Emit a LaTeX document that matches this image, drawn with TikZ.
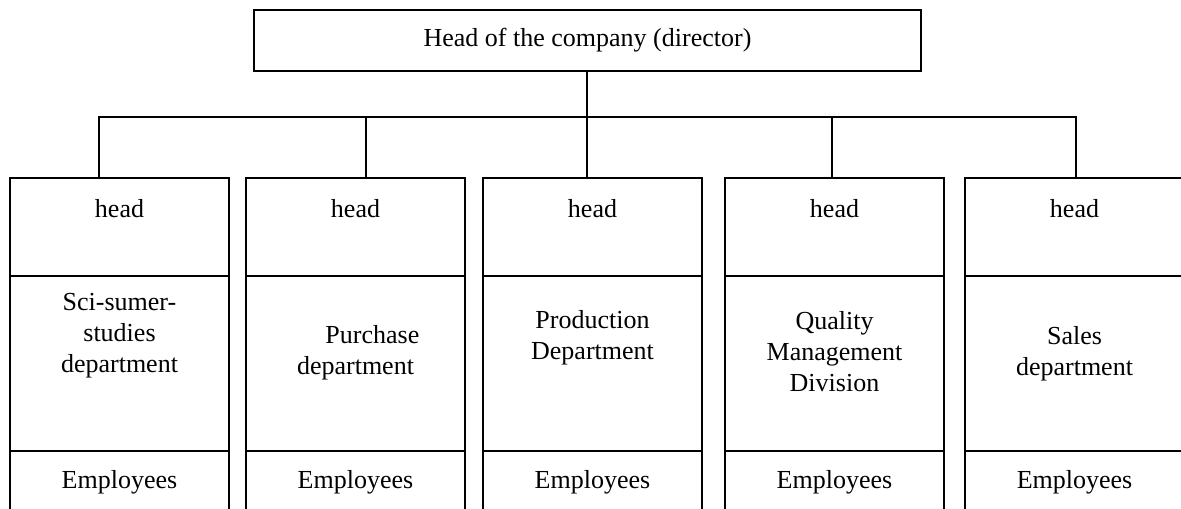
\documentclass[tikz,border=0pt]{standalone}
\usepackage{fontspec}
\setmainfont{Liberation Serif}
\usetikzlibrary{calc}
\tikzset{
	chart/.style={line width=1.4pt},
	txt/.style={font=\fontsize{19.5}{23.25}\selectfont, align=center, inner sep=0pt},
	topbox/.style={draw, chart, minimum width=500.25pt, minimum height=45.75pt, anchor=north west, inner sep=0pt, outer sep=0pt},
	headbox/.style={draw, chart, minimum width=164.25pt, minimum height=73.5pt, anchor=north west, outer sep=0pt},
	deptbox/.style={draw, chart, minimum width=164.25pt, minimum height=131.25pt, anchor=north west, outer sep=0pt},
	empbox/.style={draw, chart, minimum width=164.25pt, minimum height=60pt, anchor=north west, outer sep=0pt}
}

\begin{document}
\begin{tikzpicture}[x=0.75pt, y=-0.75pt]
			%%%%% START %%%%%
			\useasboundingbox (0, 0) rectangle (1181, 508);
			
			\node[topbox, txt, font=\fontsize{19.5}{23.25}\selectfont] (boss) at (254, 10) {Head of the company (director)};
			
			% department columns (the last one runs past the right edge)
			\node[headbox] (h1) at (10, 178) {};
			\node[headbox] (h2) at (246, 178) {};
			\node[headbox] (h3) at (483, 178) {};
			\node[headbox] (h4) at (725, 178) {};
			\node[headbox, minimum width=170pt] (h5) at (965, 178) {};
			
			\node[deptbox] (d1) at (h1.south west) {};
			\node[deptbox] (d2) at (h2.south west) {};
			\node[deptbox] (d3) at (h3.south west) {};
			\node[deptbox] (d4) at (h4.south west) {};
			\node[deptbox, minimum width=170pt] (d5) at (h5.south west) {};
			
			\node[empbox] (e1) at (d1.south west) {};
			\node[empbox] (e2) at (d2.south west) {};
			\node[empbox] (e3) at (d3.south west) {};
			\node[empbox] (e4) at (d4.south west) {};
			\node[empbox, minimum width=170pt] (e5) at (d5.south west) {};
			
			% texts
			\node[txt] (th1) at ($(h1.north)+(0, 31)$) {head};
			\node[txt] (th2) at ($(h2.north)+(0, 31)$) {head};
			\node[txt] (th3) at ($(h3.north)+(0, 31)$) {head};
			\node[txt] (th4) at ($(h4.north)+(0, 31)$) {head};
			\node[txt] (th5) at ($(h5.north west)+(109.5, 31)$) {head};
			
			\node[txt] (td1) at ($(d1.north)+(0, 60)$) {Sci-sumer-\\studies\\department};
			\node[txt] (td2) at ($(d2.north)+(0, 77)$) {\hspace*{1.3em}Purchase\\department};
			\node[txt] (td3) at ($(d3.north)+(0, 62)$) {Production\\Department};
			\node[txt] (td4) at ($(d4.north)+(0, 76)$) {Quality\\Management\\Division};
			\node[txt] (td5) at ($(d5.north west)+(109.5, 78)$) {Sales\\department};
			
			\node[txt] (te1) at ($(e1.north)+(0, 31)$) {Employees};
			\node[txt] (te2) at ($(e2.north)+(0, 31)$) {Employees};
			\node[txt] (te3) at ($(e3.north)+(0, 31)$) {Employees};
			\node[txt] (te4) at ($(e4.north)+(0, 31)$) {Employees};
			\node[txt] (te5) at ($(e5.north west)+(109.5, 31)$) {Employees};
			
			% connectors
			\coordinate (j1) at (99, 117);
			\coordinate (j2) at (366, 117);
			\coordinate (j3) at (587, 117);
			\coordinate (j4) at (832, 117);
			\coordinate (j5) at (1076, 117);
			
			\draw[chart] (j3 |- boss.south) -- (j3);
			\draw[chart] (j1 |- h1.north) -- (j1) -- (j5) -- (j5 |- h5.north);
			\draw[chart] (j2) -- (j2 |- h2.north);
			\draw[chart] (j3) -- (j3 |- h3.north);
			\draw[chart] (j4) -- (j4 |- h4.north);
			%%%%% END %%%%%
		\end{tikzpicture}
\end{document}
